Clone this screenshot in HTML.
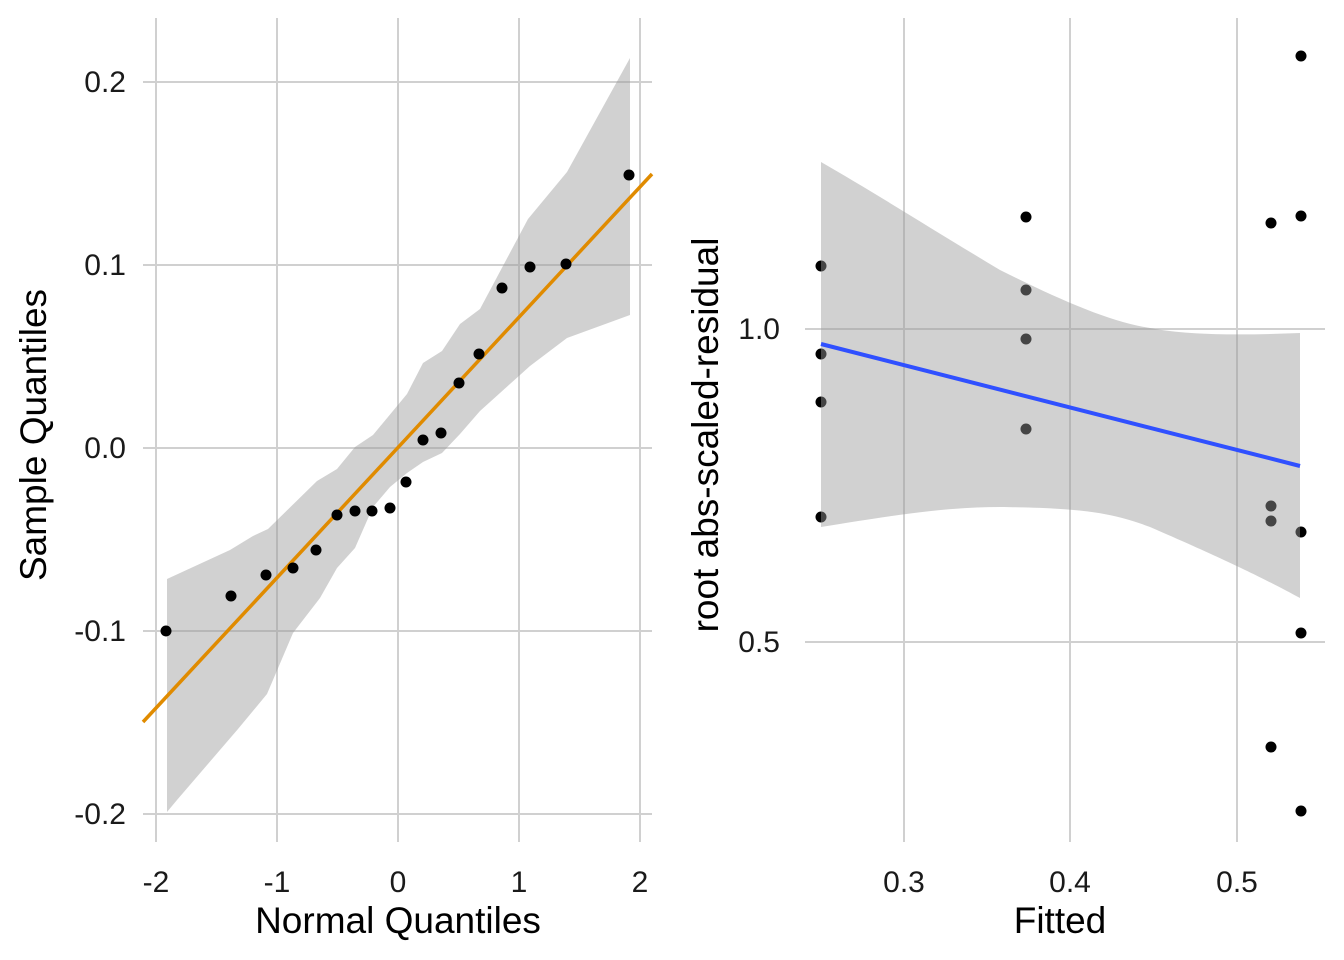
<!DOCTYPE html>
<html><head><meta charset="utf-8"><style>
html,body{margin:0;padding:0;background:#fff;}
svg{display:block;font-family:"Liberation Sans",Arial,sans-serif;}
</style></head><body>
<svg width="1344" height="960" viewBox="0 0 1344 960" xmlns="http://www.w3.org/2000/svg">
<g stroke="#d0d0d0" stroke-width="2">
<line x1="156" y1="18" x2="156" y2="842"/><line x1="277" y1="18" x2="277" y2="842"/><line x1="398" y1="18" x2="398" y2="842"/><line x1="519" y1="18" x2="519" y2="842"/><line x1="640" y1="18" x2="640" y2="842"/>
<line x1="143" y1="82" x2="652" y2="82"/><line x1="143" y1="265" x2="652" y2="265"/><line x1="143" y1="448" x2="652" y2="448"/><line x1="143" y1="631" x2="652" y2="631"/><line x1="143" y1="814" x2="652" y2="814"/>
<line x1="904" y1="18" x2="904" y2="842"/><line x1="1070" y1="18" x2="1070" y2="842"/><line x1="1237" y1="18" x2="1237" y2="842"/>
<line x1="805" y1="329" x2="1325" y2="329"/><line x1="805" y1="642" x2="1325" y2="642"/>
</g>
<polygon fill="rgba(153,153,153,0.45)" points="167,579 230,550 253,536 268,529 317,481 337,469 355,447 373,435 407,394 423,363 442,351 460,324 480,309 528,219 567,172 630,58 630,315 567,338 530,366 500,393 480,411 460,434 442,453 423,462 407,473 390,487 373,507 355,548 337,568 320,598 293,633 267,694 238,729 177,800 167,812"/>
<line x1="143" y1="722" x2="652" y2="174" stroke="#e08b00" stroke-width="3.5"/>
<g fill="#000">
<circle cx="166" cy="631" r="5.5"/><circle cx="231" cy="596" r="5.5"/><circle cx="266" cy="575" r="5.5"/><circle cx="293" cy="568" r="5.5"/><circle cx="316" cy="550" r="5.5"/><circle cx="337" cy="515" r="5.5"/><circle cx="355" cy="511" r="5.5"/><circle cx="372" cy="511" r="5.5"/><circle cx="390" cy="508" r="5.5"/><circle cx="406" cy="482" r="5.5"/><circle cx="423" cy="440" r="5.5"/><circle cx="441" cy="433" r="5.5"/><circle cx="459" cy="383" r="5.5"/><circle cx="479" cy="354" r="5.5"/><circle cx="502" cy="288" r="5.5"/><circle cx="530" cy="267" r="5.5"/><circle cx="566" cy="264" r="5.5"/><circle cx="629" cy="175" r="5.5"/>
</g>
<g fill="#000">
<circle cx="821" cy="266" r="5.5"/><circle cx="821" cy="354" r="5.5"/><circle cx="821" cy="402" r="5.5"/><circle cx="821" cy="517" r="5.5"/>
<circle cx="1026" cy="217" r="5.5"/><circle cx="1026" cy="290" r="5.5"/><circle cx="1026" cy="339" r="5.5"/><circle cx="1026" cy="429" r="5.5"/>
<circle cx="1271" cy="223" r="5.5"/><circle cx="1271" cy="506" r="5.5"/><circle cx="1271" cy="521" r="5.5"/><circle cx="1271" cy="747" r="5.5"/>
<circle cx="1301" cy="56" r="5.5"/><circle cx="1301" cy="216" r="5.5"/><circle cx="1301" cy="532" r="5.5"/><circle cx="1301" cy="633" r="5.5"/><circle cx="1301" cy="811" r="5.5"/>
</g>
<path fill="rgba(153,153,153,0.45)" d="M821,162 C870,190 930,228 1000,270 C1060,300 1110,322 1150,328 C1190,336 1250,335 1300,333 L1300,598 C1270,582 1240,566 1150,527 C1110,512 1080,508 1000,507 C950,507 900,514 821,527 Z"/>
<line x1="821" y1="344" x2="1300" y2="466" stroke="#3050ff" stroke-width="4"/>
<g font-size="30" fill="#1a1a1a" text-anchor="end">
<text x="126" y="92">0.2</text><text x="126" y="275">0.1</text><text x="126" y="458">0.0</text><text x="126" y="641">-0.1</text><text x="126" y="824">-0.2</text>
<text x="780" y="339">1.0</text><text x="780" y="652">0.5</text>
</g>
<g font-size="30" fill="#1a1a1a" text-anchor="middle">
<text x="156" y="892">-2</text><text x="277" y="892">-1</text><text x="398" y="892">0</text><text x="519" y="892">1</text><text x="640" y="892">2</text>
<text x="904" y="892">0.3</text><text x="1070" y="892">0.4</text><text x="1237" y="892">0.5</text>
</g>
<g font-size="37" fill="#000" text-anchor="middle">
<text x="398" y="933">Normal Quantiles</text>
<text x="1060" y="933">Fitted</text>
<text transform="translate(46,435) rotate(-90)">Sample Quantiles</text>
<text transform="translate(718,435) rotate(-90)">root abs-scaled-residual</text>
</g>
</svg>
</body></html>
